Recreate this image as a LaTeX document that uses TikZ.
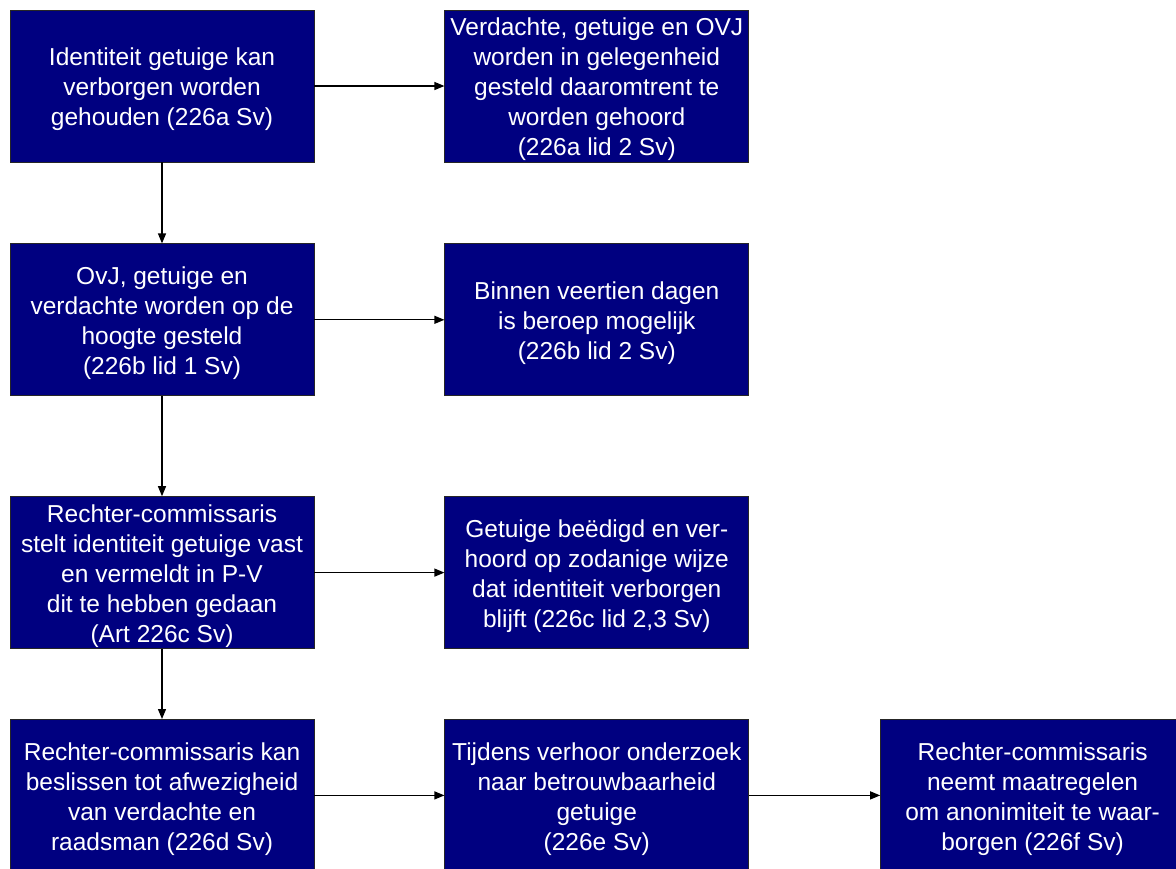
\documentclass[tikz,border=0pt]{standalone}
\usepackage{fontspec}
\setmainfont{Liberation Sans}
\usetikzlibrary{positioning,arrows.meta}

\definecolor{procnavy}{RGB}{0,0,128}
\newcommand{\topline}{\rule{0pt}{25pt}}

\tikzstyle{procblock} = [rectangle, minimum width=304pt, minimum height=152pt, inner xsep=2pt, inner ysep=0pt, draw=black!85, line width=0.8pt, fill=procnavy, text=white, align=center, font=\fontsize{24.5}{30}\selectfont]
\tikzstyle{flow}      = [line width=1.2pt, -{Triangle[length=10pt,width=8pt]}]

\begin{document}
\begin{tikzpicture}[x=1pt, y=1pt]
        \useasboundingbox (0,0) rectangle (1176,-868);
        \node (verborgen)   [procblock] at (162,-86)                  {\topline Identiteit getuige kan\\verborgen worden\\gehouden (226a Sv)};
        \node (gelegenheid) [procblock, right=130pt of verborgen]    {\topline Verdachte, getuige en OVJ\\worden in gelegenheid\\gesteld daaromtrent te\\worden gehoord\\(226a lid 2 Sv)};
        \node (hoogte)      [procblock, below=81pt of verborgen]     {\topline OvJ, getuige en\\verdachte worden op de\\hoogte gesteld\\(226b lid 1 Sv)};
        \node (beroep)      [procblock, right=130pt of hoogte]       {\topline Binnen veertien dagen\\is beroep mogelijk\\(226b lid 2 Sv)};
        \node (vaststel)    [procblock, below=100pt of hoogte]       {\topline Rechter-commissaris\\stelt identiteit getuige vast\\en vermeldt in P-V\\dit te hebben gedaan\\(Art 226c Sv)};
        \node (beedigd)     [procblock, right=130pt of vaststel]     {\topline Getuige beëdigd en ver-\\hoord op zodanige wijze\\dat identiteit verborgen\\blijft (226c lid 2,3 Sv)};
        \node (afwezig)     [procblock, below=70pt of vaststel]      {\topline Rechter-commissaris kan\\beslissen tot afwezigheid\\van verdachte en\\raadsman (226d Sv)};
        \node (verhoor)     [procblock, right=130pt of afwezig]      {\topline Tijdens verhoor onderzoek\\naar betrouwbaarheid\\getuige\\(226e Sv)};
        \node (maatregel)   [procblock, right=131pt of verhoor]      {\topline Rechter-commissaris\\neemt maatregelen\\om anonimiteit te waar-\\borgen (226f Sv)};
        \draw[flow] (verborgen) -- (gelegenheid);
        \draw[flow] (verborgen) -- (hoogte);
        \draw[flow] (hoogte)    -- (beroep);
        \draw[flow] (hoogte)    -- (vaststel);
        \draw[flow] (vaststel)  -- (beedigd);
        \draw[flow] (vaststel)  -- (afwezig);
        \draw[flow] (afwezig)   -- (verhoor);
        \draw[flow] (verhoor)   -- (maatregel);
    \end{tikzpicture}
\end{document}
